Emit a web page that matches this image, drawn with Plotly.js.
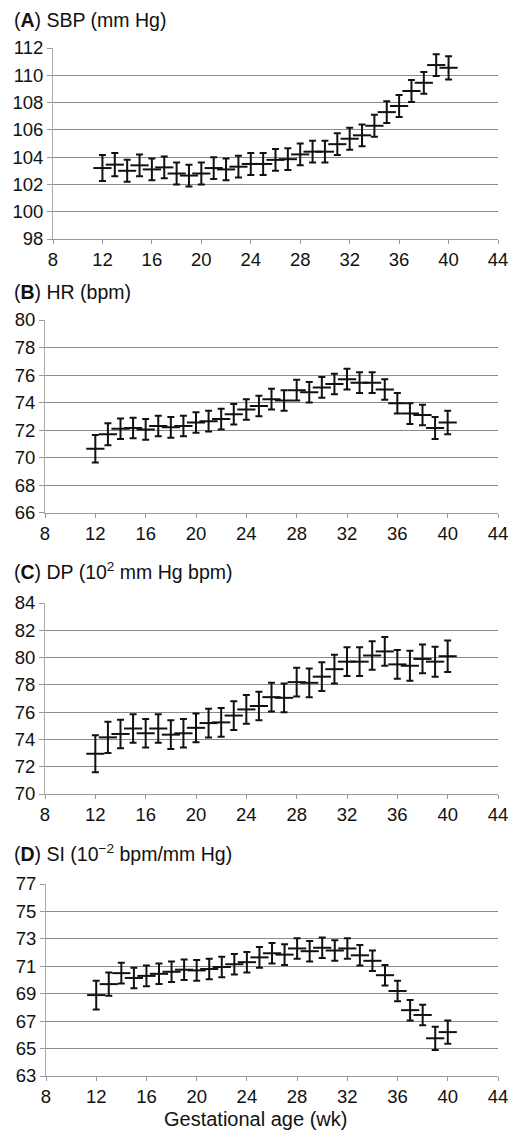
<!DOCTYPE html>
<html><head><meta charset="utf-8">
<script src="https://cdn.plot.ly/plotly-3.0.1.min.js"></script>
<style>html,body{margin:0;padding:0;background:#fff}</style>
</head><body><div id="chart" style="width:511px;height:1133px"></div>
<script>
const weeks = [12,13,14,15,16,17,18,19,20,21,22,23,24,25,26,27,28,29,30,31,32,33,34,35,36,37,38,39,40];
const sbp = [103.2,103.45,103.0,103.4,103.1,103.25,102.8,102.65,102.8,103.2,103.1,103.3,103.5,103.5,103.8,103.85,104.2,104.4,104.4,104.95,105.35,105.6,106.3,107.3,107.75,108.85,109.45,110.75,110.55];
const sbpErr = [0.95,0.85,0.8,0.8,0.8,0.8,0.8,0.8,0.8,0.8,0.8,0.8,0.8,0.8,0.8,0.8,0.8,0.8,0.8,0.8,0.8,0.8,0.8,0.8,0.8,0.8,0.8,0.8,0.85];
const hr = [70.65,71.7,72.1,72.15,72.05,72.3,72.2,72.3,72.55,72.65,72.8,73.15,73.5,73.75,74.25,74.15,74.9,74.75,75.1,75.35,75.7,75.45,75.45,74.95,73.95,73.2,73.1,72.15,72.55];
const hrErr = [1.0,0.8,0.75,0.75,0.75,0.75,0.75,0.75,0.75,0.75,0.75,0.75,0.75,0.75,0.75,0.75,0.75,0.75,0.75,0.75,0.75,0.75,0.75,0.75,0.75,0.75,0.75,0.8,0.85];
const dp = [72.95,74.15,74.4,74.8,74.45,74.8,74.35,74.45,74.85,75.2,75.25,75.75,76.2,76.45,77.1,77.05,78.2,78.15,78.6,79.15,79.7,79.7,80.15,80.45,79.5,79.4,79.9,79.7,80.1];
const dpErr = [1.35,1.15,1.05,1.05,1.05,1.05,1.05,1.05,1.05,1.05,1.05,1.05,1.05,1.05,1.05,1.05,1.05,1.05,1.05,1.05,1.05,1.05,1.05,1.05,1.05,1.1,1.05,1.1,1.15];
const si = [68.9,69.7,70.5,70.15,70.3,70.45,70.6,70.75,70.7,70.8,70.95,71.15,71.3,71.65,71.95,71.85,72.3,72.1,72.35,72.15,72.3,71.8,71.4,70.35,69.2,67.8,67.45,65.75,66.2];
const siErr = [1.05,0.85,0.75,0.75,0.75,0.75,0.75,0.75,0.75,0.75,0.75,0.75,0.75,0.75,0.75,0.75,0.75,0.75,0.75,0.75,0.75,0.75,0.75,0.75,0.75,0.75,0.75,0.85,0.85];
const xTicks = [8,12,16,20,24,28,32,36,40,44];
const titles = ["(<b>A</b>) SBP (mm Hg)","(<b>B</b>) HR (bpm)","(<b>C</b>) DP (10<sup>2</sup> mm Hg bpm)","(<b>D</b>) SI (10<sup>−2</sup> bpm/mm Hg)"];
const xTitle = "Gestational age (wk)";

const H = 1133, W = 511;
const series = [[sbp,sbpErr],[hr,hrErr],[dp,dpErr],[si,siErr]];
const yRanges = [[98,112],[66,80],[70,84],[63,77]];
const plotTop = [48,320,603,884];
const plotBot = [239,512.7,794,1076];
const plotLeft = [53,45,45,46];
const plotRight = 498;
const titleY = [20,292,571,853];

const traces = [];
const layout = {width:W,height:H,margin:{l:0,r:0,t:0,b:0},paper_bgcolor:'#fff',plot_bgcolor:'#fff',showlegend:false,
  font:{family:'Liberation Sans, Arial, sans-serif',size:18,color:'#111'},annotations:[]};
series.forEach((s,i)=>{
  const n = i===0?'':String(i+1);
  traces.push({x:weeks,y:s[0],type:'scatter',mode:'markers',xaxis:'x'+n,yaxis:'y'+n,
    marker:{symbol:'line-ew',size:13,color:'#111',line:{width:2,color:'#111'}},
    error_y:{type:'data',array:s[1],visible:true,color:'#111',thickness:2,width:3.5},hoverinfo:'skip'});
  layout['xaxis'+n] = {domain:[plotLeft[i]/W,plotRight/W],anchor:'y'+n,range:[8,44],tickvals:xTicks,
    showgrid:false,zeroline:false,showline:true,linecolor:'#999',linewidth:1,ticks:'outside',ticklen:4,tickcolor:'#999',
    tickfont:{size:18.5,color:'#111'}};
  layout['yaxis'+n] = {domain:[1-plotBot[i]/H,1-plotTop[i]/H],anchor:'x'+n,range:yRanges[i],tick0:yRanges[i][0],dtick:2,
    showgrid:true,gridcolor:'#8a8a8a',gridwidth:1,zeroline:false,showline:true,linecolor:'#aaa',linewidth:1,
    ticks:'outside',ticklen:5,tickcolor:'#999',tickfont:{size:18.5,color:'#111'}};
  layout.annotations.push({text:titles[i],xref:'paper',yref:'paper',x:12/W,y:1-titleY[i]/H,xanchor:'left',yanchor:'middle',
    showarrow:false,font:{size:19.5,color:'#111'}});
});
layout.annotations.push({text:xTitle,xref:'paper',yref:'paper',x:255/W,y:1-1119/H,xanchor:'center',yanchor:'middle',
  showarrow:false,font:{size:20,color:'#111'}});
Plotly.newPlot('chart',traces,layout,{displayModeBar:false,staticPlot:true});
</script></body></html>
